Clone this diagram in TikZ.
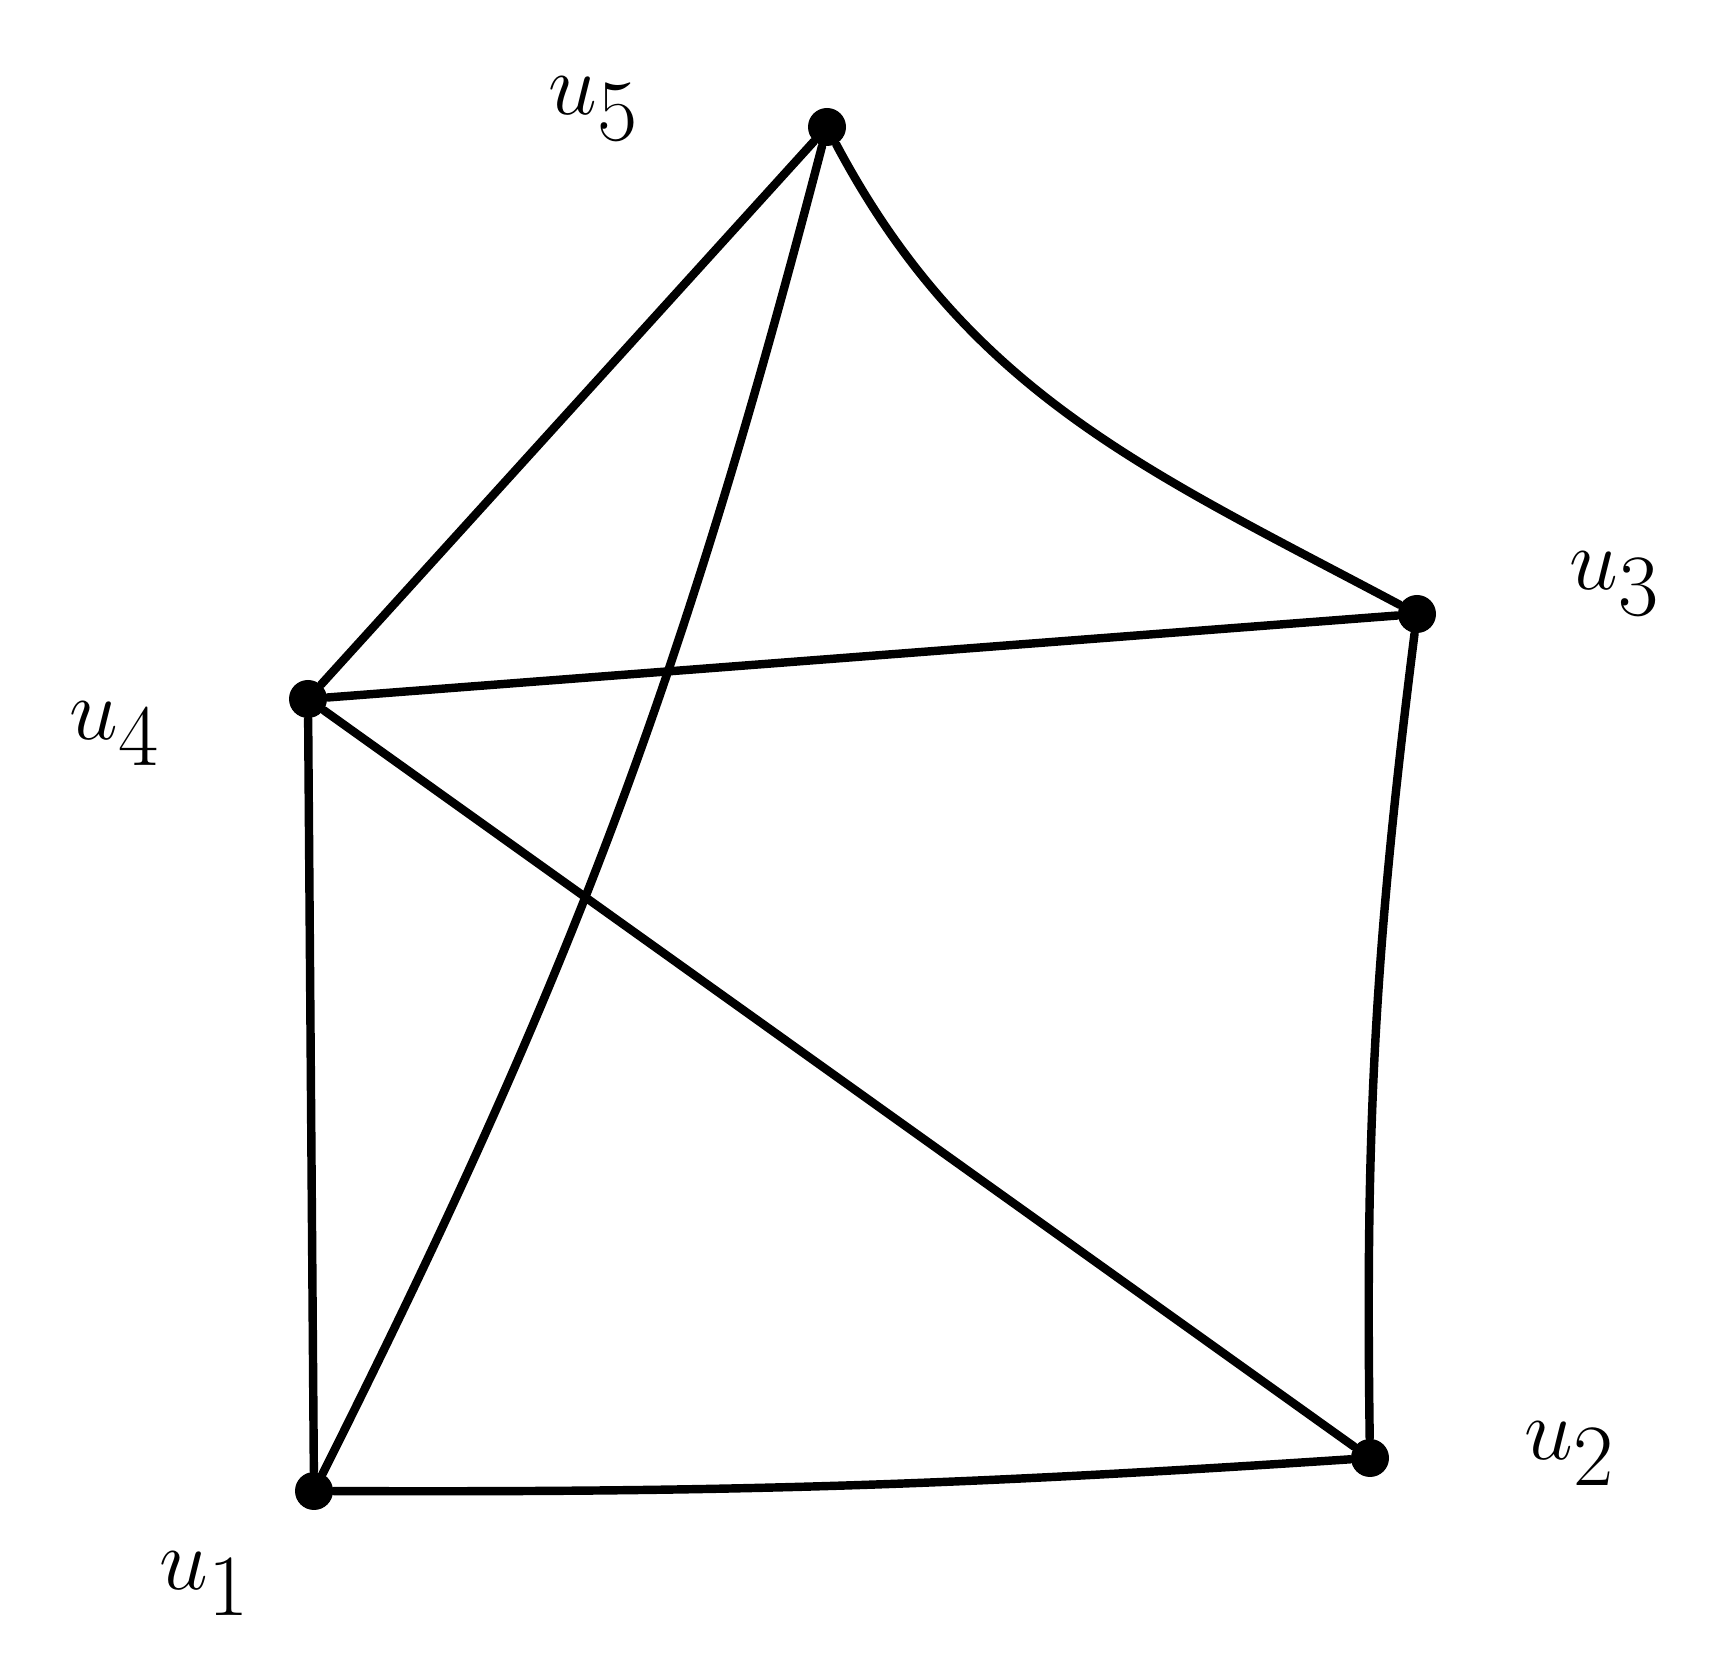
\documentclass[tikz,border=0pt]{standalone}
\usepackage{amsmath}
\usetikzlibrary{positioning}
\tikzset{
    vertex/.style={circle, fill=black, inner sep=0pt, minimum size=0.38cm},
    vlabel/.style={font=\fontsize{52}{58}\selectfont},
    edge/.style={line width=2.4pt, line cap=round}
}

\begin{document}
\begin{tikzpicture}
        \useasboundingbox (0,0) rectangle (17.25,16.59);

        % Vertices
        \node[vertex] (u5) at (8.27,15.32) {};
        \node[vertex] (u4) at (3.08,9.60) {};
        \node[vertex] (u3) at (14.17,10.45) {};
        \node[vertex] (u2) at (13.70,2.01) {};
        \node[vertex] (u1) at (3.14,1.68) {};

        % Labels
        \node[vlabel] (l5) at (5.94,15.50) {$u_5$};
        \node[vlabel] (l4) at (1.15,9.25) {$u_4$};
        \node[vlabel] (l3) at (16.15,10.75) {$u_3$};
        \node[vlabel] (l2) at (15.70,2.05) {$u_2$};
        \node[vlabel] (l1) at (2.05,0.75) {$u_1$};

        % Edges
        \draw[edge] (u5) -- (u4);
        \draw[edge] (u5) to[bend left=6] (u1);
        \draw[edge] (u5) to[out=-62, in=152] (u3);
        \draw[edge] (u4) -- (u3);
        \draw[edge] (u4) -- (u1);
        \draw[edge] (u4) -- (u2);
        \draw[edge] (u3) to[bend right=4] (u2);
        \draw[edge] (u1) to[bend right=2] (u2);
    \end{tikzpicture}
\end{document}
